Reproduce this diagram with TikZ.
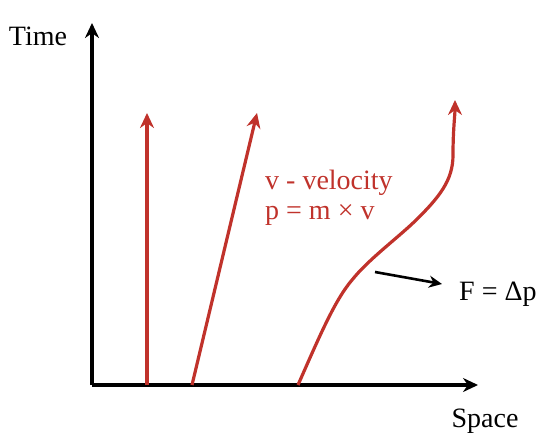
\documentclass[tikz,border=0pt]{standalone}
\usepackage{fontspec}
\setmainfont{Liberation Serif}
\usetikzlibrary{arrows.meta}
\definecolor{redline}{RGB}{192,50,43}
\begin{document}
\begin{tikzpicture}[x=1pt,y=-1pt,
  axis/.style={line width=3.2pt,-{Stealth[length=15pt,width=14pt]}},
  world/.style={line width=3.2pt,redline,-{Stealth[length=15pt,width=14pt]}},
  force/.style={line width=2.6pt,-{Stealth[length=13pt,width=12pt]}},
  lbl/.style={font=\fontsize{28}{32}\selectfont,inner sep=0pt}]
\useasboundingbox (0,0) rectangle (547,445);
\coordinate (O) at (92,385);
\coordinate (ytop) at (92,23);
\coordinate (xend) at (478,385);
\draw[axis] (O) -- (ytop);
\draw[axis] (O) -- (xend);
\node[lbl,anchor=base] (time) at (38,45) {Time};
\node[lbl,anchor=base] (space) at (485,427) {Space};
% world lines
\coordinate (a0) at (147,385);
\coordinate (a1) at (147,113);
\coordinate (b0) at (192,385);
\coordinate (b1) at (257,113);
\coordinate (c0) at (298,385);
\coordinate (c1) at (455,100);
\draw[world] (a0) -- (a1);
\draw[world] (b0) -- (b1);
\draw[world] (c0) .. controls (320,335) and (335,300) .. (352,280)
  .. controls (368,260) and (395,240) .. (413,223)
  .. controls (440,197) and (453,180) .. (453,155)
  .. controls (453,130) and (455,115) .. (c1);
\node[lbl,anchor=base west,text=redline] (vel) at (265,189) {v - velocity};
\node[lbl,anchor=base west,text=redline] (mom) at (265,219) {p = m × v};
% force
\coordinate (f0) at (375,272);
\node[lbl,anchor=base west] (F) at (459,300) {F = Δp};
\draw[force] (f0) -- (442,284);
\end{tikzpicture}
\end{document}
